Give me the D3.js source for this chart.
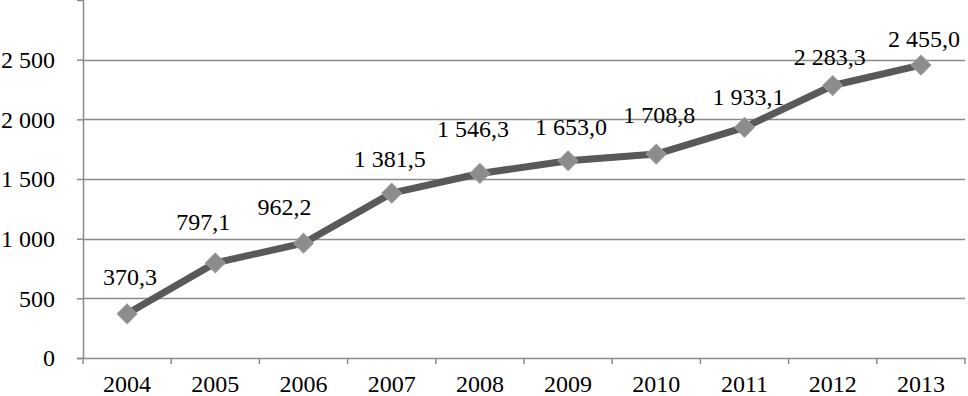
<!DOCTYPE html>
<html>
<head>
<meta charset="utf-8">
<script src="https://cdn.jsdelivr.net/npm/d3@7"></script>
<style>
    html, body { margin: 0; padding: 0; background: #fff; }
    svg { display: block; }
    svg text { font-family: "Liberation Serif", "Times New Roman", Tinos, "DejaVu Serif", serif; font-size: 24px; }
</style>
</head>
<body>
<div id="chart"></div>
<script>
var years = ["2004", "2005", "2006", "2007", "2008", "2009", "2010", "2011", "2012", "2013"];
var values = [370.3, 797.1, 962.2, 1381.5, 1546.3, 1653.0, 1708.8, 1933.1, 2283.3, 2455.0];
var yTicks = [0, 500, 1000, 1500, 2000, 2500];

// label nudges (px) relative to the point, as placed in the source chart
var labelShift = [[3, -29], [-12, -33], [-19, -28], [-2, -26], [-7, -36],
                  [3, -26], [3, -31], [4, -22], [-3, -21], [3, -18]];

var width = 968, height = 396;
var margin = { top: 0, right: 3, bottom: 38, left: 83 };

var svg = d3.select("#chart")
    .append("svg")
    .attr("width", width)
    .attr("height", height);

var x = d3.scaleBand()
    .domain(years)
    .range([margin.left, width - margin.right]);

var y = d3.scaleLinear()
    .domain([0, 3000])
    .range([height - margin.bottom, margin.top]);

function fmt(v) {
    // "1 381,5" style
    var s = v.toFixed(1).split(".");
    var intPart = s[0].replace(/\B(?=(\d{3})+(?!\d))/g, " ");
    return intPart + "," + s[1];
}

var gridColor = "#8a8a8a";

// gridlines
svg.append("g")
    .selectAll("line")
    .data(yTicks.filter(function (d) { return d > 0; }))
    .enter()
    .append("line")
    .attr("x1", margin.left)
    .attr("x2", width - margin.right)
    .attr("y1", function (d) { return Math.round(y(d)) + 0.5; })
    .attr("y2", function (d) { return Math.round(y(d)) + 0.5; })
    .attr("stroke", gridColor)
    .attr("stroke-width", 1.5);

// y axis
var gy = svg.append("g")
    .attr("transform", "translate(" + margin.left + ",0)")
    .attr("font-family", null)
    .attr("font-size", null)
    .call(d3.axisLeft(y).tickValues(yTicks).tickSize(6).tickPadding(22)
        .tickFormat(function (d) { return d3.format(",")(d).replace(/,/g, " "); }));

gy.attr("font-family", null).attr("font-size", null);
gy.select(".domain").attr("stroke", gridColor).attr("stroke-width", 1.5);
gy.selectAll(".tick line").attr("stroke", gridColor).attr("stroke-width", 1.5);
gy.selectAll(".tick text").attr("fill", "#000");

// x axis
var gx = svg.append("g")
    .attr("transform", "translate(0," + y(0) + ")")
    .call(d3.axisBottom(x).tickSize(0).tickPadding(17));

gx.attr("font-family", null).attr("font-size", null);
gx.select(".domain").attr("stroke", gridColor).attr("stroke-width", 1.5);
gx.selectAll(".tick text").attr("fill", "#000");

// category boundary ticks
gx.selectAll(".sep")
    .data(years.concat(["end"]))
    .enter()
    .append("line")
    .attr("class", "sep")
    .attr("x1", function (d, i) { return margin.left + i * x.step(); })
    .attr("x2", function (d, i) { return margin.left + i * x.step(); })
    .attr("y1", 0)
    .attr("y2", 6)
    .attr("stroke", gridColor)
    .attr("stroke-width", 1.5);

var cx = function (d, i) { return x(years[i]) + x.bandwidth() / 2; };

// line
var line = d3.line()
    .x(function (d, i) { return cx(d, i); })
    .y(function (d) { return y(d); });

svg.append("path")
    .datum(values)
    .attr("d", line)
    .attr("fill", "none")
    .attr("stroke", "#595959")
    .attr("stroke-width", 7)
    .attr("stroke-linejoin", "round");

// diamond markers
svg.append("g")
    .selectAll("path")
    .data(values)
    .enter()
    .append("path")
    .attr("transform", function (d, i) {
        return "translate(" + cx(d, i) + "," + y(d) + ") rotate(45)";
    })
    .attr("d", "M-7,-7H7V7H-7Z")
    .attr("fill", "#8c8c8c")
    .attr("stroke", "#9a9a9a")
    .attr("stroke-width", 1);

// data labels
svg.append("g")
    .selectAll("text")
    .data(values)
    .enter()
    .append("text")
    .attr("x", function (d, i) { return cx(d, i) + labelShift[i][0]; })
    .attr("y", function (d, i) { return y(d) + labelShift[i][1]; })
    .attr("text-anchor", "middle")
    .attr("fill", "#000")
    .text(function (d) { return fmt(d); });
</script>
</body>
</html>
